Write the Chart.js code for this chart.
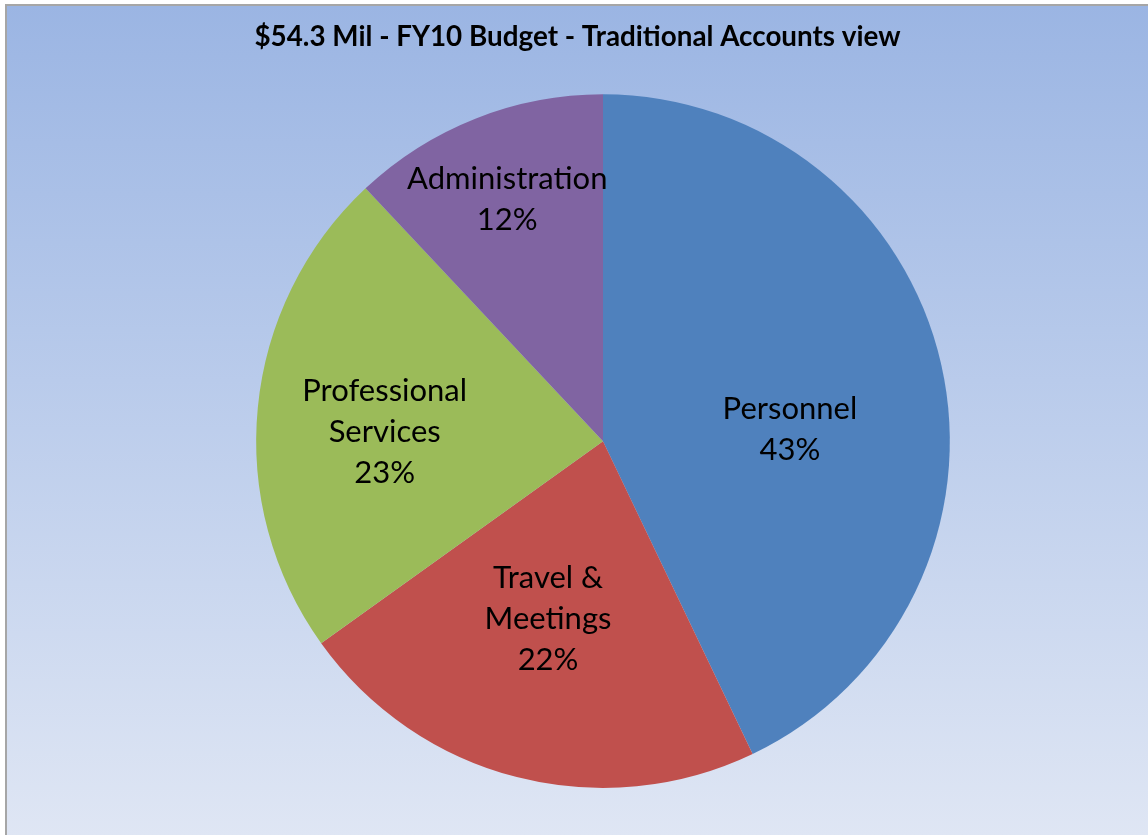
<!DOCTYPE html>
<html>
<head>
<meta charset="utf-8">
<script src="https://cdn.jsdelivr.net/npm/chart.js@4"></script>
<style>
  html, body { margin: 0; padding: 0; background: #ffffff; }
  #frame {
    position: absolute; left: 5px; top: 4px; width: 1143px; height: 831px;
    border-left: 2px solid #a6a6a6; border-top: 2px solid #a6a6a6;
    background: linear-gradient(to bottom, #9bb5e3 0%, #b9cbeb 45%, #dfe6f4 100%);
  }
  #wrap { position: absolute; left: 0; top: 0; width: 1141px; height: 829px; }
</style>
</head>
<body>
<div id="frame"><div id="wrap"><canvas id="c"></canvas></div></div>
<script>
const titleText = "$54.3 Mil - FY10 Budget - Traditional Accounts view";
const categories = ["Personnel", "Travel & Meetings", "Professional Services", "Administration"];
const labelLines = [["Personnel"], ["Travel &", "Meetings"], ["Professional", "Services"], ["Administration"]];
const shares = [42.9, 22.2, 22.9, 12.0];
const sliceColors = ["#4f81bd", "#c0504d", "#9bbb59", "#8064a2"];

// center the title on the whole canvas rather than the padded area
const titleCentering = {
  id: "titleCentering",
  afterLayout(chart) {
    const tb = chart.titleBlock;
    if (tb) { tb.left = 0; tb.right = chart.width; tb.width = chart.width; }
  }
};

const sliceLabels = {
  id: "sliceLabels",
  afterDatasetsDraw(chart, args, opts) {
    const ctx = chart.ctx;
    const meta = chart.getDatasetMeta(0);
    const data = chart.data.datasets[0].data;
    const total = data.reduce((a, b) => a + b, 0);
    ctx.save();
    ctx.font = opts.font;
    ctx.fillStyle = opts.color;
    ctx.textAlign = "center";
    ctx.textBaseline = "middle";
    meta.data.forEach((arc, i) => {
      const p = arc.getProps(["x", "y", "startAngle", "endAngle", "outerRadius"], true);
      const mid = (p.startAngle + p.endAngle) / 2 + (opts.nudge[i] || 0) * Math.PI / 180;
      const r = p.outerRadius * opts.fraction[i];
      const cx = p.x + Math.cos(mid) * r;
      const cy = p.y + Math.sin(mid) * r;
      const lines = labelLines[i].concat([Math.round(data[i] / total * 100) + "%"]);
      const lh = opts.lineHeight;
      const y0 = cy - (lines.length - 1) * lh / 2;
      lines.forEach((t, k) => ctx.fillText(t, cx, y0 + k * lh));
    });
    ctx.restore();
  }
};

new Chart(document.getElementById("c"), {
  type: "pie",
  data: {
    labels: categories,
    datasets: [{ data: shares, backgroundColor: sliceColors, borderWidth: 0 }]
  },
  options: {
    responsive: true,
    maintainAspectRatio: false,
    animation: false,
    layout: { padding: { left: 60, right: 9, top: 0, bottom: 47 } },
    plugins: {
      legend: { display: false },
      tooltip: { enabled: false },
      title: {
        display: true,
        text: titleText,
        color: "#000000",
        font: { family: "Lato", size: 27.8, weight: "bold", lineHeight: 1.2 },
        padding: { top: 14.5, bottom: 40.5 }
      },
      sliceLabels: {
        font: "31px Lato",
        color: "#000000",
        lineHeight: 41,
        fraction: [0.54, 0.536, 0.63, 0.75],
        nudge: [9.3, 2.8, -3.2, 0]
      }
    }
  },
  plugins: [titleCentering, sliceLabels]
});
</script>
</body>
</html>
